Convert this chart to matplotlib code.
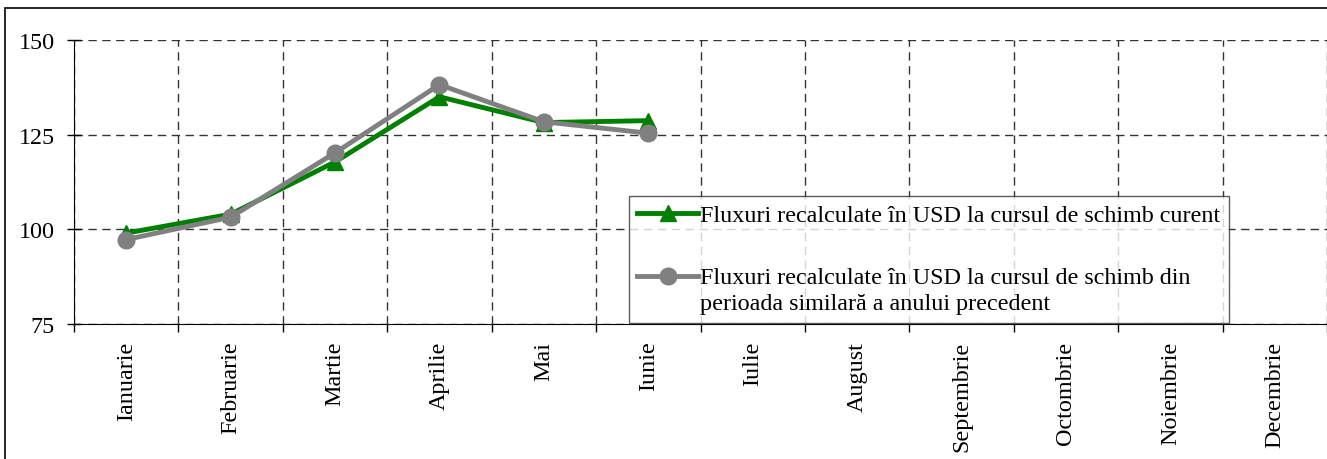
import matplotlib.pyplot as plt
from matplotlib.patches import Rectangle
from matplotlib.legend_handler import HandlerLine2D

# data
luni = ["Ianuarie", "Februarie", "Martie", "Aprilie", "Mai", "Iunie",
        "Iulie", "August", "Septembrie", "Octombrie", "Noiembrie", "Decembrie"]
curent = [99.0, 104.0, 117.8, 135.0, 128.2, 128.7]
precedent = [97.3, 103.2, 120.2, 138.2, 128.4, 125.4]

label_curent = "Fluxuri recalculate în USD la cursul de schimb curent"
label_precedent = ("Fluxuri recalculate în USD la cursul de schimb din\n"
                   "perioada similară a anului precedent")

plt.rcParams['font.family'] = ['Liberation Serif', 'DejaVu Serif']
FS = 17.4


class RaisedHandler(HandlerLine2D):
    # moves the legend handle up so it sits on the first line of the label
    def __init__(self, dy, **kw):
        super().__init__(**kw)
        self.dy = dy

    def create_artists(self, legend, orig_handle, xdescent, ydescent,
                       width, height, fontsize, trans):
        arts = super().create_artists(legend, orig_handle, xdescent, ydescent,
                                      width, height, fontsize, trans)
        for a in arts:
            a.set_ydata([y + self.dy for y in a.get_ydata()])
        return arts


fig = plt.figure(figsize=(13.27, 4.6), dpi=100)
ax = fig.add_axes([74/1327, 1 - 325/460, 1 - 74/1327, (325 - 41)/460])

x = list(range(len(curent)))
l1, = ax.plot(x, curent, color='#008000', lw=3.5, marker='^', ms=11,
              label=label_curent, zorder=3)
l2, = ax.plot(x, precedent, color='#808080', lw=3.5, marker='o', ms=12,
              label=label_precedent, zorder=4)

ax.set_xlim(-0.5, len(luni) - 0.5)
ax.set_ylim(75, 150)
ax.set_yticks([75, 100, 125, 150])

# ticks at boundaries, labels at centers
ax.set_xticks([i + 0.5 for i in range(-1, len(luni))])
ax.set_xticklabels([])
ax.set_xticks(range(len(luni)), minor=True)
ax.set_xticklabels(luni, minor=True, rotation=90, fontsize=FS, va='top')
ax.tick_params(axis='x', which='major', direction='out', length=6, width=1)
ax.tick_params(axis='x', which='minor', length=0, pad=12)
ax.tick_params(axis='y', direction='inout', length=10, width=1, labelsize=FS, pad=9)

ax.grid(True, which='major', color='#333333', linestyle=(0, (6, 4)), lw=1)
ax.spines['top'].set_visible(False)
ax.spines['right'].set_visible(False)
ax.set_axisbelow(True)

leg = ax.legend(loc='upper left', bbox_to_anchor=(629/1327, 1 - 197/460),
                bbox_transform=fig.transFigure, borderaxespad=0,
                fontsize=FS, frameon=True, fancybox=False, edgecolor='#333333',
                handlelength=2.5, handletextpad=0.1, labelspacing=1.7,
                borderpad=0.35,
                handler_map={l2: RaisedHandler(10.5)})
leg.get_frame().set_linewidth(1)
for t in leg.get_texts():
    t.set_linespacing(1.3)

# outer border of the chart area
fig.patches.append(Rectangle((5/1327, -0.1), 1.2, 1.1 - 9/460,
                             transform=fig.transFigure, fill=False,
                             edgecolor='black', lw=1.2))

fig.savefig('out.png', dpi=100)
